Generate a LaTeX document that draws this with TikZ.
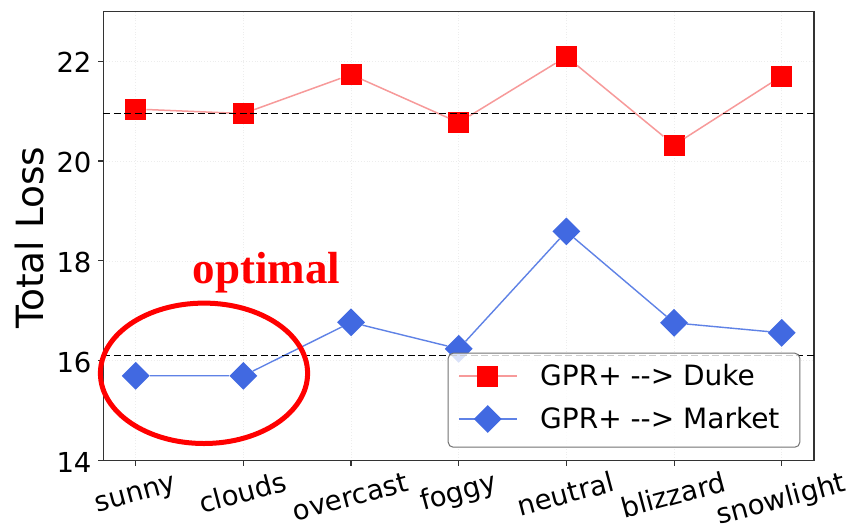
\documentclass[tikz,border=0pt]{standalone}
\usepackage{fontspec}
\setmainfont{DejaVu Sans}
\newfontfamily\annotfont{Liberation Serif}
\usetikzlibrary{shapes.geometric}
\definecolor{royal}{HTML}{4169E1}
\definecolor{dukeln}{HTML}{F79A9A}
\definecolor{mktln}{HTML}{5F82E6}
\definecolor{spine}{HTML}{333333}
\tikzset{
  sqmark/.style={rectangle, fill=red, minimum size=21pt, inner sep=0pt},
  dmmark/.style={diamond, aspect=1, fill=royal, minimum size=28pt, inner sep=0pt},
  dukeline/.style={draw=dukeln, line width=1.5pt},
  mktline/.style={draw=mktln, line width=1.4pt},
  refline/.style={draw=black, line width=1.5pt, dash pattern=on 7pt off 3.5pt},
  gridline/.style={draw=black!7, line width=0.8pt, dotted},
  ticklab/.style={font=\fontsize{27.5pt}{33pt}\selectfont, inner sep=0pt},
  xlab/.style={ticklab, rotate=15, anchor=center, text height=20.9pt, text depth=6.6pt},
  ylab/.style={ticklab, anchor=east, text height=20pt, text depth=0pt},
  legtext/.style={font=\fontsize{28pt}{34pt}\selectfont, inner sep=0pt, anchor=base west}
}
\begin{document}
\begin{tikzpicture}
\useasboundingbox (0pt,0pt) rectangle (856pt,-531pt);
\fill[white] (0pt,0pt) rectangle (856pt,-531pt);

% data coordinates: x = category index, y = loss value
\begin{scope}[x=107.67pt, y=49.95pt, shift={(135.7pt,-1160pt)}]
  % grid
  \foreach \i in {0,...,6} \draw[gridline] (\i,14) -- (\i,23);
  \foreach \v in {16,18,20,22} \draw[gridline] (-0.3,\v) -- (6.3,\v);

  % axes frame and ticks
  \draw[spine, line width=1.3pt] (-0.3,14) rectangle (6.3,23);
  \foreach \i in {0,...,6} \draw[spine, line width=1.1pt] (\i,14) -- ++(0,-5pt);
  \foreach \v in {14,16,18,20,22} {
    \draw[spine, line width=1.1pt] (-0.3,\v) -- ++(-5pt,0);
    \node[ylab] (yt\v) at ([xshift=-11.7pt, yshift=-1.5pt]-0.3,\v) {\v};
  }

  % GPR+ --> Duke
  \node[sqmark] (d0) at (0,21.04) {};
  \node[sqmark] (d1) at (1,20.95) {};
  \node[sqmark] (d2) at (2,21.73) {};
  \node[sqmark] (d3) at (3,20.77) {};
  \node[sqmark] (d4) at (4,22.09) {};
  \node[sqmark] (d5) at (5,20.32) {};
  \node[sqmark] (d6) at (6,21.70) {};

  % GPR+ --> Market
  \node[dmmark] (m0) at (0,15.70) {};
  \node[dmmark] (m1) at (1,15.70) {};
  \node[dmmark] (m2) at (2,16.77) {};
  \node[dmmark] (m3) at (3,16.24) {};
  \node[dmmark] (m4) at (4,18.59) {};
  \node[dmmark] (m5) at (5,16.76) {};
  \node[dmmark] (m6) at (6,16.56) {};

  \draw[dukeline] (d0) -- (d1) -- (d2) -- (d3) -- (d4) -- (d5) -- (d6);
  \draw[mktline] (m0) -- (m1) -- (m2) -- (m3) -- (m4) -- (m5) -- (m6);

  % reference levels
  \coordinate (r1a) at (-0.3,20.95);
  \coordinate (r1b) at (6.3,20.95);
  \coordinate (r2a) at (-0.3,16.11);
  \coordinate (r2b) at (6.3,16.11);
  \draw[refline] (r1a) -- (r1b);
  \draw[refline] (r2a) -- (r2b);
\end{scope}

% x tick labels (tilted)
\node[xlab] (xl0) at (135.7pt,-494.5pt) {sunny};
\node[xlab] (xl1) at (243.4pt,-495.3pt) {clouds};
\node[xlab] (xl2) at (351.0pt,-499.1pt) {overcast};
\node[xlab] (xl3) at (458.7pt,-493.9pt) {foggy};
\node[xlab] (xl4) at (566.4pt,-496.5pt) {neutral};
\node[xlab] (xl5) at (674.0pt,-497.7pt) {blizzard};
\node[xlab] (xl6) at (781.7pt,-500.9pt) {snowlight};

% y axis title
\node[font=\fontsize{37.5pt}{45pt}\selectfont, rotate=90, anchor=base, inner sep=0pt] (ytitle) at (43.3pt,-237.5pt) {Total Loss};

% legend
\node[draw=black!55, line width=1pt, rounded corners=5pt, fill=white, fill opacity=0.8,
      minimum width=351.6pt, minimum height=94pt, anchor=north west, inner sep=0pt]
      (legend) at (447.7pt,-352.7pt) {};
\coordinate (la1) at (459pt,-376pt);
\coordinate (lb1) at (516.7pt,-376pt);
\coordinate (la2) at (459pt,-419pt);
\coordinate (lb2) at (516.7pt,-419pt);
\draw[dukeline] (la1) -- (lb1);
\draw[mktline] (la2) -- (lb2);
\node[sqmark] (lm1) at (487.8pt,-376pt) {};
\node[dmmark] (lm2) at (487.8pt,-419pt) {};
\node[legtext] (lt1) at (540pt,-385.7pt) {GPR+ -\kern0pt-\kern0pt> Duke};
\node[legtext] (lt2) at (540pt,-428.3pt) {GPR+ -\kern0pt-\kern0pt> Market};

% annotation
\draw[red, line width=5pt] (204pt,-373.3pt) ellipse [x radius=103.6pt, y radius=70.2pt];
\node[font=\annotfont\bfseries\fontsize{45pt}{54pt}\selectfont, text=red, anchor=base, inner sep=0pt]
      (opt) at (266.7pt,-283pt) {optimal};
\end{tikzpicture}
\end{document}
